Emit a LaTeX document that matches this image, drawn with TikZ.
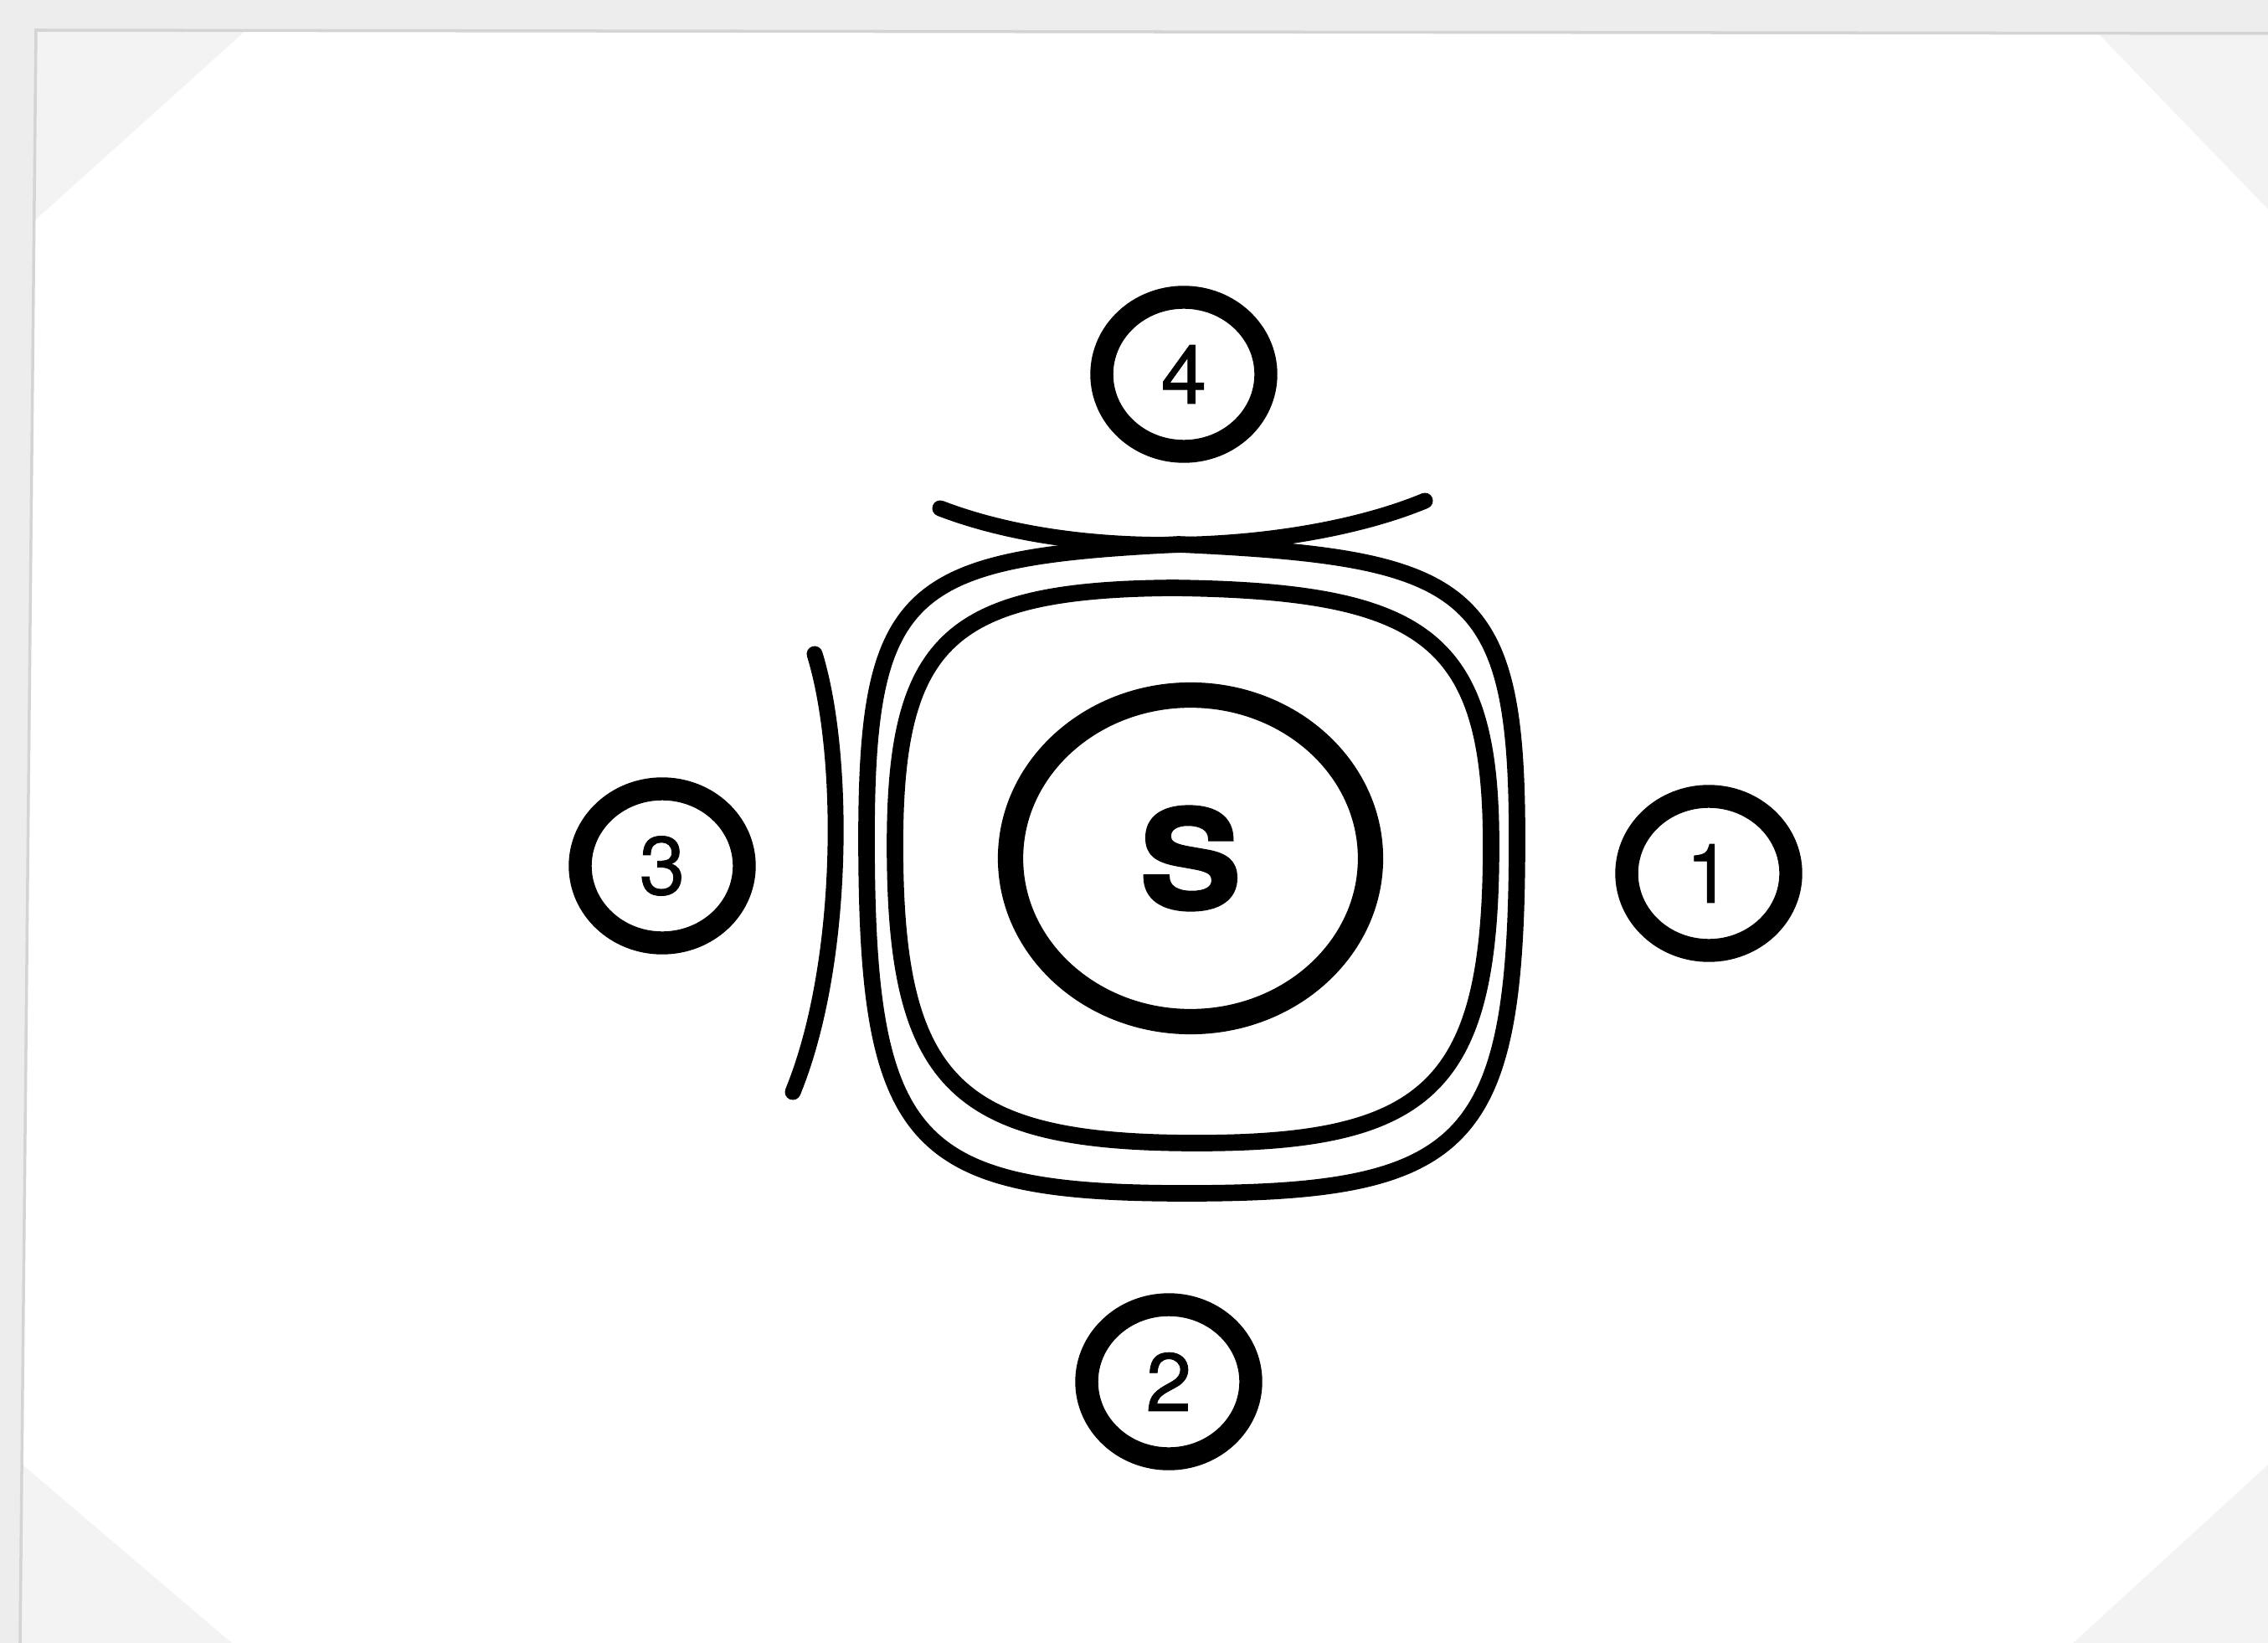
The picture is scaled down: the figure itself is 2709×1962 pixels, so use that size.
\documentclass[tikz,border=0pt]{standalone}
\usepackage{fontspec}
\usetikzlibrary{shapes.geometric}
\newfontfamily\numfont[FakeBold=0.8]{TeX Gyre Heros}
\newfontfamily\srcfont[FakeBold=3.4,FakeStretch=1.1]{TeX Gyre Heros Bold}
\definecolor{framegray}{HTML}{EDEDED}
\definecolor{cornergray}{HTML}{F3F3F3}
\definecolor{edgegray}{HTML}{D4D4D4}
\tikzset{
  station/.style={ellipse, draw=black, line width=7.8pt, minimum width=19.6mm, minimum height=18.4mm, inner sep=0pt, font=\numfont\fontsize{28}{30}\selectfont},
  source/.style={ellipse, draw=black, line width=8.6pt, minimum width=43mm, minimum height=39mm, inner sep=0pt, font=\srcfont\fontsize{46}{50}\selectfont},
  contour/.style={draw=black, line width=5.6pt, line cap=round, line join=round},
  barrier/.style={draw=black, line width=5.4pt, line cap=round}
}
\begin{document}
\begin{tikzpicture}[x=0.1mm,y=-0.1mm]
\useasboundingbox (0,0) rectangle (2709,1962);
% paper and scan frame
\fill[framegray] (0,0) rectangle (2709,1962);
\fill[cornergray] (24,1962) -- (43,36) -- (2709,40) -- (2709,1962) -- cycle;
\fill[white] (293,37) -- (2506,40) -- (2709,250) -- (2709,1749) -- (2476,1962) -- (277,1962) -- (27,1749) -- (42,263) -- cycle;
\draw[edgegray, line width=1pt] (24,1962) -- (43,36) -- (2709,40);
% inner contour
\draw[contour] (1402,702) .. controls (1705,706) and (1781,763) .. (1781,1009)
  .. controls (1781,1294) and (1711,1365) .. (1430,1365)
  .. controls (1141,1365) and (1069,1294) .. (1069,1009)
  .. controls (1069,763) and (1136,704) .. cycle;
% outer contour
\draw[contour] (1408,650) .. controls (1755,666) and (1812,699) .. (1812,1000)
  .. controls (1812,1366) and (1757,1425) .. (1417,1425)
  .. controls (1088,1425) and (1035,1366) .. (1035,1000)
  .. controls (1035,699) and (1087,666) .. cycle;
% barriers
\coordinate (tl) at (1123,607);
\coordinate (tr) at (1702,598);
\coordinate (lt) at (973,781);
\coordinate (lb) at (947,1304);
\draw[barrier] (tl) .. controls (1300,675) and (1560,657) .. (tr);
\draw[barrier] (lt) .. controls (1010,900) and (1010,1150) .. (lb);
% source and stations
\node[source] (S) at (1422,1025) {S};
\node[station] (n4) at (1414,447) {4};
\node[station] (n3) at (791,1034) {3};
\node[station] (n1) at (2041,1043) {1};
\node[station] (n2) at (1396,1650) {2};
\end{tikzpicture}
\end{document}
